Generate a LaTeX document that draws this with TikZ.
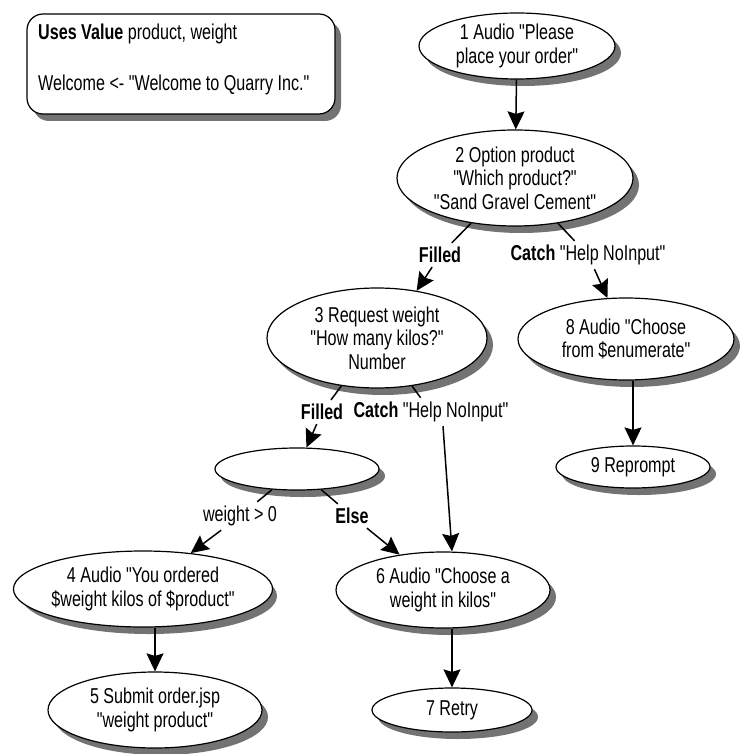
\documentclass[tikz,border=0pt]{standalone}
\usepackage{fontspec}
\setmainfont{Liberation Sans}[FakeStretch=0.75,Ligatures=TeXOff]
\usetikzlibrary{shapes.geometric,arrows.meta}
\definecolor{shcol}{rgb}{0.45,0.45,0.45}
\newcommand\statenode[6]{%
  \path[fill=shcol] ({#2+6},{#3+7}) ellipse [x radius={#4pt/2}, y radius={#5pt/2}];
  \node[st,minimum width=#4pt,minimum height=#5pt] (#1) at (#2,#3) {#6};
}
\begin{document}
\begin{tikzpicture}[x=1pt,y=-1pt,
  font=\fontsize{21.5}{23.5}\selectfont,
  st/.style={ellipse,draw,line width=1.2pt,fill=white,inner sep=0pt,align=center},
  lbl/.style={inner sep=4pt,align=center},
  arr/.style={line width=1.5pt,-{Stealth[length=18pt,width=17pt,inset=2.5pt]}},
  ln/.style={line width=1.5pt},
]
\useasboundingbox (0,0) rectangle (748,754);

% declaration box
\path[fill=shcol,rounded corners=16pt] (33,21) rectangle (341,121);
\node[draw,rounded corners=16pt,line width=1.2pt,fill=white,minimum width=308pt,minimum height=100pt] (box) at (181,64) {};
\node[anchor=base west,inner sep=0pt] (boxl1) at (38,40) {\textbf{Uses Value} product, weight};
\node[anchor=base west,inner sep=0pt] (boxl2) at (38,91) {Welcome <- "Welcome to Quarry Inc."};

% states
\statenode{n1}{517}{46}{196}{66}{1 Audio "Please\\place your order"}
\statenode{n2}{515}{178}{236}{96}{2 Option product\\"Which product?"\\"Sand Gravel Cement"}
\statenode{n3}{377}{338}{220}{100}{3 Request weight\\"How many kilos?"\\Number}
\statenode{n8}{626}{339}{216}{82}{8 Audio "Choose\\from \$enumerate"}
\statenode{n9}{633}{467}{154}{42}{9 Reprompt}
\statenode{dec}{297}{469}{164}{42}{}
\statenode{n4}{143}{589}{256}{76}{4 Audio "You ordered\\\$weight kilos of \$product"}
\statenode{n6}{443}{590}{214}{76}{6 Audio "Choose a\\weight in kilos"}
\statenode{n5}{155}{710}{214}{76}{5 Submit order.jsp\\"weight product"}
\statenode{n7}{452}{710}{160}{44}{7 Retry}

% edge labels
\node[lbl] (lF1) at (440,255) {\textbf{Filled}};
\node[lbl] (lC1) at (588,255) {\textbf{Catch} "Help NoInput"};
\node[lbl] (lF2) at (322,412) {\textbf{Filled}};
\node[lbl] (lC2) at (431,412) {\textbf{Catch} "Help NoInput"};
\node[lbl] (lW) at (240,516) {weight > 0};
\node[lbl] (lE) at (352,516) {\textbf{Else}};

% connectors
\draw[arr] (n1) -- (n2);
\draw[ln] (n2) -- (lF1);
\draw[arr] (lF1) -- (n3.50);
\draw[ln] (n2) -- (lC1);
\draw[arr] (lC1) -- (n8);
\draw[arr] (n9.north |- n8.south) -- (n9.north);
\draw[ln] (n3) -- (lF2);
\draw[arr] (lF2) -- (dec);
\draw[ln] (n3) -- (lC2);
\draw[arr] ([xshift=12pt]lC2.south) -- ([xshift=9pt]n6.north);
\draw[ln] (dec) -- (lW);
\draw[arr] (lW) -- (n4);
\draw[ln] (dec) -- (lE);
\draw[arr] (lE) -- (n6);
\draw[arr] (n5.north |- n4.south) -- (n5.north);
\draw[arr] (n7.north |- n6.south) -- (n7.north);
\end{tikzpicture}
\end{document}
